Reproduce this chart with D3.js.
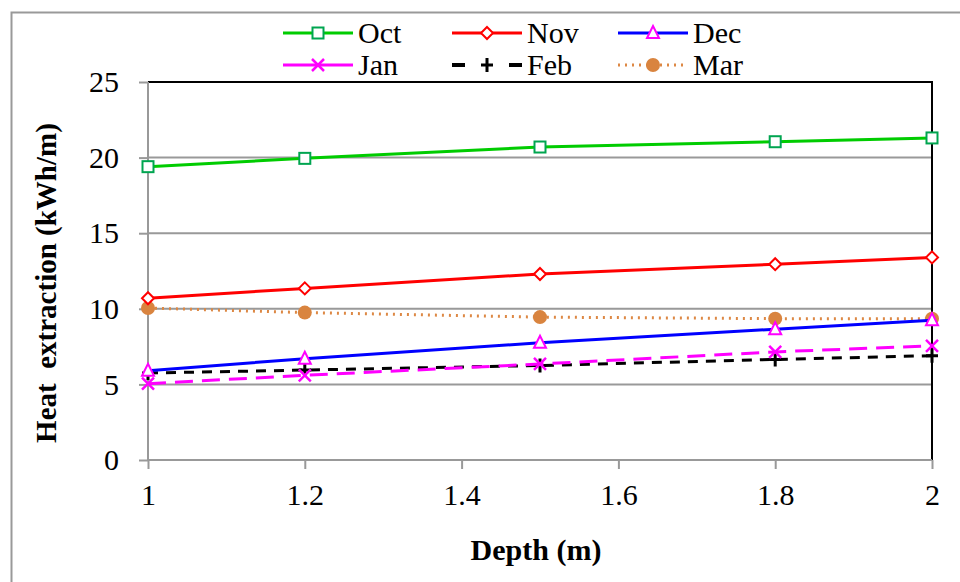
<!DOCTYPE html>
<html>
<head>
<meta charset="utf-8">
<script src="https://cdn.jsdelivr.net/npm/d3@7"></script>
<style>
  body { margin: 0; background: #fff; }
  text { font-family: "Liberation Serif", "Times New Roman", serif; fill: #000; }
</style>
</head>
<body>
<div id="chart"></div>
<script>
// data
var depths = [1, 1.2, 1.5, 1.8, 2];
var months = ["Oct", "Nov", "Dec", "Jan", "Feb", "Mar"];
var octVals = [19.4, 19.95, 20.7, 21.05, 21.3];
var novVals = [10.7, 11.35, 12.3, 12.95, 13.4];
var decVals = [5.9, 6.7, 7.75, 8.65, 9.25];
var janVals = [5.05, 5.6, 6.35, 7.15, 7.55];
var febVals = [5.75, 5.95, 6.25, 6.65, 6.9];
var marVals = [10.05, 9.75, 9.45, 9.35, 9.35];
var yTicks = [0, 5, 10, 15, 20, 25];
var xTicks = [1, 1.2, 1.4, 1.6, 1.8, 2];

var seriesValues = [octVals, novVals, decVals, janVals, febVals, marVals];

// styles per series
var styles = [
  {line: "#00cc00", dash: null, legDash: null, marker: "square", mcolor: "#00a550", fill: "none"},
  {line: "#ff0000", dash: null, legDash: null, marker: "diamond", mcolor: "#ff0000", fill: "none"},
  {line: "#0000ff", dash: null, legDash: null, marker: "triangle", mcolor: "#ff00ff", fill: "none"},
  {line: "#ff00ff", dash: "18,9", legDash: null, marker: "cross", mcolor: "#ff00ff", fill: "none"},
  {line: "#000000", dash: "10,8", legDash: "13,44,13", marker: "plus", mcolor: "#000000", fill: "none"},
  {line: "#dd8844", dash: "2,5", legDash: "2,5", marker: "circle", mcolor: "#d9843f", fill: "#d9843f"}
];

var fontSize = 30;

var outerWidth = 960,
    outerHeight = 582,
    margin = {top: 82, right: 28, bottom: 122, left: 148},
    width = outerWidth - margin.left - margin.right,
    height = outerHeight - margin.top - margin.bottom;

var svg = d3.select("#chart").append("svg")
    .attr("width", outerWidth)
    .attr("height", outerHeight);

// outer frame (only left and top visible)
svg.append("path")
    .attr("d", "M11.5," + outerHeight + "V12.5H" + outerWidth)
    .attr("fill", "none")
    .attr("stroke", "#999")
    .attr("stroke-width", 2);

var g = svg.append("g")
    .attr("transform", "translate(" + margin.left + "," + margin.top + ")");

var x = d3.scaleLinear().domain([1, 2]).range([0, width]);
var y = d3.scaleLinear().domain([0, 25]).range([height, 0]);

// gridlines
g.append("g")
  .selectAll("line")
  .data(yTicks.filter(function(d) { return d > 0 && d < 25; }))
  .join("line")
    .attr("x1", 0)
    .attr("x2", width)
    .attr("y1", function(d) { return y(d); })
    .attr("y2", function(d) { return y(d); })
    .attr("stroke", "#999")
    .attr("stroke-width", 2);

// top and right border
g.append("path")
    .attr("d", "M0," + y(25) + "H" + width + "V" + height)
    .attr("fill", "none")
    .attr("stroke", "#000")
    .attr("stroke-width", 2);

// axes
var yAxis = g.append("g")
    .call(d3.axisLeft(y).tickValues(yTicks).tickSize(9).tickPadding(20).tickFormat(d3.format("d")));
var xAxis = g.append("g")
    .attr("transform", "translate(0," + height + ")")
    .call(d3.axisBottom(x).tickValues(xTicks).tickSize(9).tickPadding(15).tickFormat(function(d) { return d3.format("")(d); }));

[yAxis, xAxis].forEach(function(a) {
  a.select(".domain").attr("stroke", "#999").attr("stroke-width", 2);
  a.selectAll(".tick line").attr("stroke", "#999").attr("stroke-width", 2);
  a.selectAll(".tick text")
      .attr("font-size", fontSize)
      .attr("fill", "#000");
});
xAxis.select(".domain").attr("d", "M0,0H" + width);
yAxis.select(".domain").attr("d", "M0," + height + "V0");

// axis titles
svg.append("text")
    .attr("x", margin.left + width / 2 - 4)
    .attr("y", 560)
    .attr("text-anchor", "middle")
    .attr("font-size", fontSize)
    .attr("font-weight", "bold")
    .text("Depth (m)");

svg.append("text")
    .attr("transform", "translate(56,283) rotate(-90)")
    .attr("text-anchor", "middle")
    .attr("font-size", 29)
    .attr("font-weight", "bold")
    .style("white-space", "pre")
    .text("Heat  extraction (kWh/m)");

// marker drawing
function drawMarker(sel, type, color, fill) {
  if (type === "square") {
    sel.append("rect").attr("x", -5.5).attr("y", -5.5).attr("width", 11).attr("height", 11)
      .attr("fill", "#fff").attr("stroke", color).attr("stroke-width", 2);
  } else if (type === "diamond") {
    sel.append("path").attr("d", "M0,-6L6,0L0,6L-6,0Z")
      .attr("fill", "#fff").attr("stroke", color).attr("stroke-width", 2);
  } else if (type === "triangle") {
    sel.append("path").attr("d", "M0,-7L6,5L-6,5Z")
      .attr("fill", "#fff").attr("stroke", color).attr("stroke-width", 2);
  } else if (type === "cross") {
    sel.append("path").attr("d", "M-6,-6L6,6M-6,6L6,-6")
      .attr("stroke", color).attr("stroke-width", 2.5);
  } else if (type === "plus") {
    sel.append("path").attr("d", "M-6,0H6M0,-7V7")
      .attr("stroke", color).attr("stroke-width", 3);
  } else if (type === "circle") {
    sel.append("circle").attr("r", 7).attr("fill", fill).attr("stroke", "none");
  }
}

var line = d3.line()
    .x(function(d, i) { return x(depths[i]); })
    .y(function(d) { return y(d); });

// lines + markers (draw in reverse so Oct is on top)
var order = [5, 4, 3, 2, 1, 0];
order.forEach(function(k) {
  var s = styles[k];
  var sg = g.append("g").attr("class", "series-" + months[k]);
  sg.append("path")
      .datum(seriesValues[k])
      .attr("d", line)
      .attr("fill", "none")
      .attr("stroke", s.line)
      .attr("stroke-width", 3)
      .attr("stroke-dasharray", s.dash);
  sg.selectAll("g.pt")
    .data(seriesValues[k])
    .join("g")
      .attr("class", "pt")
      .attr("transform", function(d, i) { return "translate(" + x(depths[i]) + "," + y(d) + ")"; })
      .each(function() { drawMarker(d3.select(this), s.marker, s.mcolor, s.fill); });
});

// legend
var legX = [283, 452, 618];
var legY = [33, 65];
var legend = svg.append("g").attr("class", "legend");
months.forEach(function(m, k) {
  var s = styles[k];
  var lx = legX[k % 3], ly = legY[Math.floor(k / 3)];
  var lg = legend.append("g").attr("transform", "translate(" + lx + "," + ly + ")");
  lg.append("line")
      .attr("x1", 0).attr("x2", 70)
      .attr("stroke", s.line)
      .attr("stroke-width", k === 4 ? 4 : 3)
      .attr("stroke-dasharray", s.legDash);
  var mg = lg.append("g").attr("transform", "translate(35,0)");
  drawMarker(mg, s.marker, s.mcolor, s.fill);
  lg.append("text")
      .attr("x", 75)
      .attr("y", 10)
      .attr("font-size", fontSize)
      .text(m);
});
</script>
</body>
</html>
